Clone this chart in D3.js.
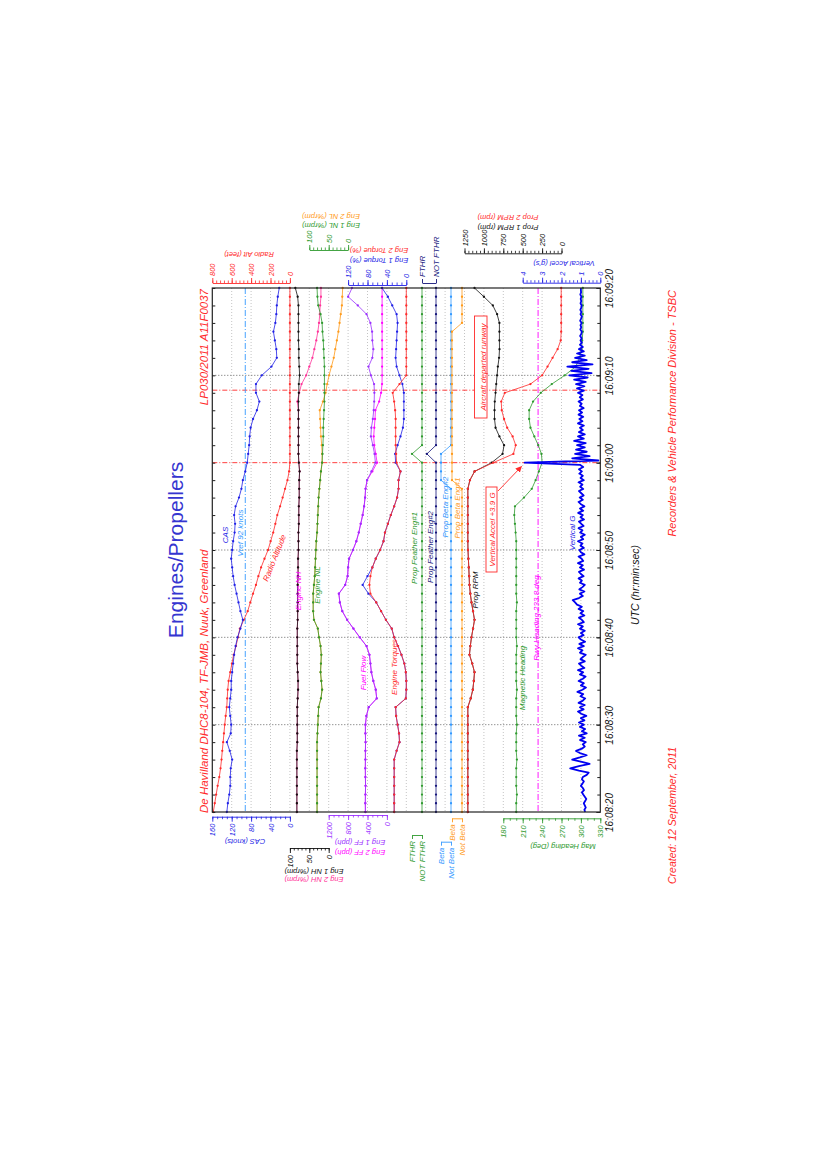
<!DOCTYPE html>
<html><head><meta charset="utf-8">
<script src="https://d3js.org/d3.v7.min.js"></script>
<style>
body{margin:0;background:#fff;}
svg text{font-family:"Liberation Sans",Arial,Helvetica,sans-serif;}
</style></head>
<body><svg id="chart" width="827" height="1169"></svg>
<script>
// ---------------- DATA ----------------
const timeLabels = ["16:08:20","16:08:30","16:08:40","16:08:50","16:09:00","16:09:10","16:09:20"];
const timeTickSec = [0,10,20,30,40,50,60];
// 1 Hz samples, seconds after 16:08:20
const sampleSec = d3.range(0,61);
const casKnots = [130,128,125,123,123,122,119,124,130,122,121,123,125,123,121,121,119,117,115,112,108,102,97,102,106,110,114,117,119,121,119,117,114,113,115,112,105,100,97,92,88,86,84,83,81,76,68,63,70,70,58,38,27,28,31,34,30,28,27,25,22];
const radioAltFt = [790,775,760,745,728,715,705,697,688,680,672,662,651,646,641,632,615,598,580,556,535,516,475,435,408,380,350,325,297,262,225,199,172,150,130,101,75,50,25,8,0,0,0,0,0,0,0,0,0,0,0,0,0,0,0,0,0,0,0,0,0];
const eng1NH = [82,82,82,82,82,82,82,82,81,81,81,81,81,80,79,79,80,81,81,81,81,81,80,80,80,80,80,79,79,79,78,78,78,77,77,77,76,76,76,75,77,78,78,78,78,78,78,78,77,77,75,76,77,77,78,78,78,78,78,80,86];
const eng2NH = [82,82,82,82,82,82,82,82,81,81,81,81,81,80,79,79,80,81,81,81,81,81,80,80,80,80,80,79,79,79,78,78,78,77,77,77,76,76,76,75,77,78,78,78,78,78,78,81,76,70,58,50,42,37,32,28,25,23,22,20,20];
const eng1NL = [80,80,80,80,80,80,80,80,80,79,78,77,76,70,67,69,71,70,69,71,75,78,88,90,90,90,88,86,85,84,83,82,80,79,78,77,76,74,72,70,67,66,65,64,64,63,62,61,61,61,61,61,62,63,64,66,67,71,77,79,80];
const eng2NL = [80,80,80,80,80,80,80,80,80,79,78,77,76,70,67,69,71,70,69,71,75,78,88,90,90,90,88,86,85,84,83,82,80,79,78,77,76,74,72,70,67,67,68,70,71,72,73,65,58,54,49,43,37,33,29,25,22,19,16,15,14];
const eng1FF = [443,445,443,440,443,445,443,443,440,443,443,423,375,210,230,280,320,340,360,420,560,690,820,920,970,990,860,810,800,780,700,630,580,540,500,470,450,440,408,320,237,255,290,330,320,290,272,262,258,265,330,380,300,280,300,305,340,420,600,800,720];
const eng2FF = [443,445,443,440,443,445,443,443,440,443,443,423,375,210,230,280,320,340,360,420,560,690,820,920,970,990,860,810,800,780,700,630,580,540,500,470,450,440,408,300,202,230,260,272,260,245,237,160,120,100,99,99,99,99,99,99,99,99,99,99,99];
const eng1Trq = [25,25,25,25,25,25,25,20,14,15,18,21,22,1,0,0,1,4,10,17,25,30,42,52,62,78,90,80,70,63,54,47,44,38,32,25,19,16,16,12,22,23,18,12,7,5,5,5,5,8,14,20,22,21,20,19,18,20,29,38,50];
const eng2Trq = [25,25,25,25,25,25,25,20,14,15,18,21,22,1,0,0,1,4,10,17,25,30,42,52,62,74,76,74,70,63,54,47,44,38,32,25,19,16,16,12,20,21,22,22,22,22,23,25,28,14,0,0,0,0,0,0,0,0,0,0,0];
const featherEng1 = [0,0,0,0,0,0,0,0,0,0,0,0,0,0,0,0,0,0,0,0,0,0,0,0,0,0,0,0,0,0,0,0,0,0,0,0,0,0,0,0,0,1,0,0,0,0,0,0,0,0,0,0,0,0,0,0,0,0,0,0,0];
const featherEng2 = [0,0,0,0,0,0,0,0,0,0,0,0,0,0,0,0,0,0,0,0,0,0,0,0,0,0,0,0,0,0,0,0,0,0,0,0,0,0,0,0,0,0.65,0,0,0,0,0,0,0,0,0,0,0,0,0,0,0,0,0,0,0];
const betaEng2 = [0,0,0,0,0,0,0,0,0,0,0,0,0,0,0,0,0,0,0,0,0,0,0,0,0,0,0,0,0,0,0,0,0,0,0,0,0,0,1,1,1,1,0,0,0,0,0,0,0,0,0,0,0,0,0,0,0,0,0,0,0];
const betaEng1 = [0,0,0,0,0,0,0,0,0,0,0,0,0,0,0,0,0,0,0,0,0,0,0,0,0,0,0,0,0,0,0,0,0,0,0,0,0,0,1,1,1,1,1,1,1,1,1,1,1,1,1,1,1,1,1,1,0,0,0,0,0];
const prop1RPM = [1207,1207,1207,1207,1207,1207,1207,1207,1207,1207,1207,1207,1207,1170,1143,1130,1121,1150,1186,1175,1160,1140,1121,1140,1160,1175,1186,1190,1195,1200,1205,1207,1207,1207,1207,1207,1207,1207,1180,1120,900,760,740,800,850,863,863,860,850,841,830,820,805,799,800,800,800,830,885,1000,1121];
const prop2RPM = [1207,1207,1207,1207,1207,1207,1207,1207,1207,1207,1207,1207,1207,1170,1143,1130,1121,1150,1186,1175,1160,1140,1121,1140,1160,1175,1186,1190,1195,1200,1205,1207,1207,1207,1207,1207,1207,1207,1180,1120,880,620,590,630,700,740,770,777,730,400,250,180,115,50,10,4,4,4,4,4,4];
const magHeading = [200,200,201,200,200,200,201,200,200,200,201,200,200,200,201,200,200,200,200,201,200,200,200,200,201,200,200,200,200,200,200,200,199,198,197,198,212,224,230,235,240,239,234,228,222,220,220,226,238,255,275,292,298,301,302,303,303,303,303,303,303];
// vertical acceleration, 4 Hz
const vgSec = d3.range(0,60.001,0.25);
const vertG = [
0.78,0.82,0.75,0.80, 0.85,0.78,0.72,0.80, 0.88,0.95,0.84,0.90, 1.00,0.92,0.85,0.95,
0.90,0.70,0.60,1.10, 1.55,1.10,0.55,0.95, 1.45,1.05,0.70,1.05, 1.25,0.95,0.80,0.90,
0.75,1.05,0.80,1.10, 0.70,0.95,0.78,1.05, 0.85,1.10,0.82,1.00, 0.72,0.98,1.15,0.86,
1.05,0.80,1.12,0.90, 0.78,1.02,0.88,1.18, 0.92,0.74,1.00,0.85, 1.12,0.90,0.76,1.05,
0.88,1.15,0.82,0.98, 1.10,0.80,1.02,0.90, 0.75,1.05,0.92,1.15, 0.85,1.08,0.78,1.00,
1.12,0.86,1.00,0.80, 1.05,0.90,1.15,0.85, 0.95,1.10,0.82,1.02, 0.88,1.12,0.95,1.20,
1.30,1.42,1.10,0.90, 1.05,0.82,1.08,0.92, 0.80,1.05,0.95,1.12, 0.86,1.00,1.10,0.84,
1.05,0.90,1.15,0.88, 0.96,1.12,0.82,1.00, 1.08,0.85,1.02,0.92, 1.15,0.88,1.00,0.80,
1.04,0.92,1.12,0.86, 0.98,1.10,0.84,1.02, 0.90,1.14,0.88,1.05, 0.82,1.00,1.12,0.90,
1.06,0.86,0.98,1.10, 0.88,1.04,0.92,1.12, 0.85,1.02,0.90,1.08, 0.95,1.10,0.88,1.05,
3.90,0.10,1.45,0.55, 1.30,0.70,1.25,0.80, 1.20,0.75,1.35,0.85, 1.15,0.80,1.10,0.90,
1.05,0.85,1.15,0.92, 1.08,0.88,1.12,0.94, 1.10,0.86,1.05,0.96, 1.12,0.90,1.06,0.92,
1.15,0.85,1.20,0.82, 1.25,0.75,1.35,0.65, 1.60,0.45,1.50,0.60, 1.70,0.40,1.45,0.70,
1.30,0.80,1.20,0.85, 1.10,0.90,1.05,0.95, 1.02,0.96,1.04,0.98, 0.95,1.03,0.98,1.02,
0.96,1.04,0.99,0.95, 1.02,0.97,1.03,0.98, 0.96,1.02,0.98,1.01, 0.97,1.03,0.99,1.00,
1.00];
const vrefKnots = 92;
const rwyHeading = 233.8;
const eventSec = [40.0, 48.3];

// ---------------- DRAW ----------------
const svg = d3.select("#chart");
const PX0=212.3, PX1=600.3, PT=288, PB=812;
const gx = k => PX0 + k*(PX1-PX0)/20;
const T = d3.scaleLinear().domain([0,60]).range([PB,PT]);
const S = {
  cas: d3.scaleLinear().domain([0,160]).range([gx(4),gx(0)]),
  ralt: d3.scaleLinear().domain([0,800]).range([gx(4),gx(0)]),
  nh: d3.scaleLinear().domain([0,100]).range([gx(6),gx(4)]),
  nl: d3.scaleLinear().domain([0,100]).range([gx(7),gx(5)]),
  ff: d3.scaleLinear().domain([0,1200]).range([gx(9),gx(6)]),
  trq: d3.scaleLinear().domain([0,120]).range([gx(10),gx(7)]),
  fth1: d3.scaleLinear().domain([0,1]).range([422,412]),
  fth2: d3.scaleLinear().domain([0,1]).range([436,422]),
  beta2: d3.scaleLinear().domain([0,1]).range([451,441]),
  beta1: d3.scaleLinear().domain([0,1]).range([462,452]),
  rpm: d3.scaleLinear().domain([0,1250]).range([gx(18),gx(13)]),
  hdg: d3.scaleLinear().domain([180,330]).range([gx(15),gx(20)]),
  vg: d3.scaleLinear().domain([0,4]).range([gx(20),gx(16)])
};
const C = {red:"#ff2a2a", blue:"#1f1fe6", lblue:"#3399ff", green:"#2f9a2f", orange:"#ff9a1a",
  magenta:"#ff00ff", pink:"#ff3399", purple:"#9b30ff", navy:"#14147a", black:"#111", title:"#3535d0"};
const intFmt = d3.format("d");

// grid
const grid = svg.append("g");
grid.selectAll(null).data(d3.range(1,20)).join("line")
  .attr("x1",d=>gx(d)).attr("x2",d=>gx(d)).attr("y1",PT).attr("y2",PB)
  .attr("stroke","#b5b5b5").attr("stroke-width",0.8).attr("stroke-dasharray","1,2");
grid.selectAll(null).data([10,20,30,50]).join("line")
  .attr("x1",PX0).attr("x2",PX1).attr("y1",d=>T(d)).attr("y2",d=>T(d))
  .attr("stroke","#555").attr("stroke-width",0.9).attr("stroke-dasharray","1,2");
grid.selectAll(null).data(eventSec).join("line")
  .attr("x1",PX0).attr("x2",PX1).attr("y1",d=>T(d)).attr("y2",d=>T(d))
  .attr("stroke",C.red).attr("stroke-width",0.9).attr("stroke-dasharray","5,2,1,2");
grid.append("line").attr("x1",S.cas(vrefKnots)).attr("x2",S.cas(vrefKnots)).attr("y1",PT).attr("y2",PB)
  .attr("stroke",C.lblue).attr("stroke-width",0.9).attr("stroke-dasharray","6,2,1,2");
grid.append("line").attr("x1",S.hdg(rwyHeading)).attr("x2",S.hdg(rwyHeading)).attr("y1",PT).attr("y2",PB)
  .attr("stroke",C.magenta).attr("stroke-width",0.9).attr("stroke-dasharray","6,2,1,2");

// series
const dataG = svg.append("g");
function series(vals, times, scale, color, w=0.8, markers=true){
  const pts = vals.map((v,i)=>[scale(v), T(times[i])]);
  dataG.append("path").attr("d", d3.line()(pts)).attr("fill","none")
    .attr("stroke",color).attr("stroke-width",w).attr("stroke-linejoin","round");
  if(markers) dataG.append("g").selectAll("circle").data(pts).join("circle")
    .attr("cx",d=>d[0]).attr("cy",d=>d[1]).attr("r",1.15).attr("fill",color);
}
series(radioAltFt, sampleSec, S.ralt, C.red);
series(casKnots, sampleSec, S.cas, C.blue);
series(eng2NH, sampleSec, S.nh, C.pink);
series(eng1NH, sampleSec, S.nh, C.black);
series(eng2NL, sampleSec, S.nl, C.orange);
series(eng1NL, sampleSec, S.nl, C.green);
series(eng2FF, sampleSec, S.ff, C.magenta);
series(eng1FF, sampleSec, S.ff, C.purple);
series(eng1Trq, sampleSec, S.trq, C.blue);
series(eng2Trq, sampleSec, S.trq, C.red);
series(featherEng1, sampleSec, S.fth1, C.green);
series(featherEng2, sampleSec, S.fth2, C.navy);
series(betaEng2, sampleSec, S.beta2, C.lblue);
series(betaEng1, sampleSec, S.beta1, C.orange);
series(prop1RPM, sampleSec, S.rpm, C.black);
series(prop2RPM, sampleSec, S.rpm, C.red);
series(magHeading, sampleSec, S.hdg, C.green);
series(vertG, vgSec, S.vg, "#0000f0", 1.8, false);

// frame
svg.append("rect").attr("x",PX0).attr("y",PT).attr("width",PX1-PX0).attr("height",PB-PT)
  .attr("fill","none").attr("stroke","#222").attr("stroke-width",1.2);

// time axes
const tAxR = svg.append("g").attr("transform",`translate(${PX1},0)`)
  .call(d3.axisLeft(T).tickValues(timeTickSec).tickSize(4).tickSizeOuter(0).tickFormat((d,i)=>timeLabels[i]));
tAxR.select(".domain").remove();
tAxR.selectAll(".tick line").attr("stroke","#222");
tAxR.selectAll(".tick text").attr("transform","translate(12.5,0) rotate(-90)").attr("x",0).attr("y",0).attr("dy",0)
  .attr("text-anchor","middle").attr("font-size",10).attr("font-style","italic").attr("fill","#111");
const minorT = d3.range(0,61,2);
svg.append("g").attr("transform",`translate(${PX1},0)`).call(d3.axisLeft(T).tickValues(minorT).tickSize(3).tickFormat(""))
  .call(g=>g.select(".domain").remove()).selectAll("line").attr("stroke","#222");
svg.append("g").attr("transform",`translate(${PX0},0)`).call(d3.axisRight(T).tickValues(minorT).tickSize(3).tickFormat(""))
  .call(g=>g.select(".domain").remove()).selectAll("line").attr("stroke","#222");

// band axes
function bandAxis(scale, o){
  const mk = ()=> o.side==="top"? d3.axisTop(scale) : d3.axisBottom(scale);
  const size = o.size||5;
  const ax = mk().tickValues(o.ticks).tickSize(size).tickSizeOuter(0).tickFormat(o.fmt||intFmt);
  const g = svg.append("g").attr("transform",`translate(0,${o.y})`).call(ax);
  g.select(".domain").attr("stroke",o.color).attr("stroke-width",0.9);
  g.selectAll(".tick line").attr("stroke",o.color).attr("stroke-width",0.9);
  g.selectAll(".tick text").attr("fill",o.color).attr("font-size",o.fs||7.5).attr("font-style","italic")
    .attr("transform","rotate(-90)").attr("y",0).attr("dy","0.35em")
    .attr("x", o.side==="top"? size+2 : -(size+2)).attr("text-anchor", o.side==="top"?"start":"end");
  if(o.minor){
    svg.append("g").attr("transform",`translate(0,${o.y})`).call(mk().tickValues(o.minor).tickSize(2.5).tickFormat(""))
      .call(g=>g.select(".domain").remove()).selectAll("line").attr("stroke",o.color).attr("stroke-width",0.8);
  }
}
function axTitle(txt, x, y, color, fs=7.5){
  svg.append("text").attr("transform",`translate(${x},${y}) rotate(180)`).attr("text-anchor","middle")
    .attr("font-size",fs).attr("font-style","italic").attr("fill",color).text(txt);
}
bandAxis(S.ralt,{side:"top",y:283,ticks:[0,200,400,600,800],minor:d3.range(0,801,40),color:C.red});
axTitle("Radio Alt (feet)",249,251.5,C.red);
bandAxis(S.nl,{side:"top",y:250,ticks:[0,50,100],minor:d3.range(0,101,10),color:C.green});
axTitle("Eng 1 NL (%rpm)",331,223,C.green);
axTitle("Eng 2 NL (%rpm)",331,213.5,C.orange);
bandAxis(S.trq,{side:"top",y:285,ticks:[0,40,80,120],minor:d3.range(0,121,10),color:C.blue});
axTitle("Eng 2 Torque (%)",379,248,C.red);
axTitle("Eng 1 Torque (%)",379,258,C.blue);
bandAxis(S.fth2,{side:"top",y:283,ticks:[0,1],fmt:d=>d?"FTHR":"NOT FTHR",color:C.navy,size:4,fs:8});
bandAxis(S.rpm,{side:"top",y:253.3,ticks:[0,250,500,750,1000,1250],minor:d3.range(0,1251,50),color:C.black});
axTitle("Prop 1 RPM (rpm)",508,225,C.black);
axTitle("Prop 2 RPM (rpm)",508,215,C.red);
bandAxis(S.vg,{side:"top",y:282.7,ticks:[0,1,2,3,4],minor:d3.range(0,4.01,0.2),color:C.blue});
axTitle("Vertical Accel (g's)",564,261,C.blue);

bandAxis(S.cas,{side:"bottom",y:816.7,ticks:[0,40,80,120,160],minor:d3.range(0,161,10),color:C.blue});
axTitle("CAS (knots)",245,839,C.blue);
bandAxis(S.ff,{side:"bottom",y:815,ticks:[0,400,800,1200],minor:d3.range(0,1201,100),color:C.purple});
axTitle("Eng 1 FF (pph)",360,840,C.purple);
axTitle("Eng 2 FF (pph)",360,849.5,C.magenta);
bandAxis(S.nh,{side:"bottom",y:848,ticks:[0,50,100],minor:d3.range(0,101,10),color:C.black});
axTitle("Eng 1 NH (%rpm)",314,868.5,C.black);
axTitle("Eng 2 NH (%rpm)",314,877,C.pink);
bandAxis(S.fth1,{side:"bottom",y:835,ticks:[0,1],fmt:d=>d?"FTHR":"NOT FTHR",color:C.green,size:4,fs:8});
bandAxis(S.beta2,{side:"bottom",y:841.7,ticks:[0,1],fmt:d=>d?"Beta":"Not Beta",color:C.lblue,size:4,fs:8});
bandAxis(S.beta1,{side:"bottom",y:818.3,ticks:[0,1],fmt:d=>d?"Beta":"Not Beta",color:C.orange,size:4,fs:8});
bandAxis(S.hdg,{side:"bottom",y:818.3,ticks:[180,210,240,270,300,330],minor:d3.range(180,331,10),color:C.green});
axTitle("Mag Heading (Deg)",563,844,C.green);

// texts (rotated)
function vtext(txt, x, y, color, o={}){
  return svg.append("text").attr("transform",`translate(${x},${y}) rotate(${o.rot==null?-90:o.rot})`)
    .attr("text-anchor",o.anchor||"middle").attr("font-size",o.fs||8)
    .attr("font-style",o.italic===false?"normal":"italic").attr("fill",color).text(txt);
}
vtext("Engines/Propellers",183,550,C.title,{fs:21,italic:false});
vtext("De Havilland DHC8-104, TF-JMB, Nuuk, Greenland",207.5,813,C.red,{fs:11.5,anchor:"start"});
vtext("LP030/2011  A11F0037",207.5,289,C.red,{fs:11.5,anchor:"end"});
vtext("Created: 12 September, 2011",676,884,C.red,{fs:10.5,anchor:"start"});
vtext("Recorders & Vehicle Performance Division - TSBC",676,290,C.red,{fs:11,anchor:"end"});
vtext("UTC (hr:min:sec)",639,585,"#111",{fs:10.5});

vtext("CAS",228,535,C.blue);
vtext("Vref 92 knots",243,533,C.lblue);
vtext("Radio Altitude",277,559,C.red,{rot:-68});
vtext("Engine NH",301,591,C.magenta);
vtext("Engine NL",320,585,C.green);
vtext("Fuel Flow",366,673,C.magenta);
vtext("Engine Torques",397,667,C.red);
vtext("Prop Feather Eng#1",417,548,C.green);
vtext("Prop Feather Eng#2",433,547,C.navy);
vtext("Prop Beta Eng#2",448,507,C.lblue);
vtext("Prop Beta Eng#1",460,508,C.orange);
vtext("Prop RPM",478,590,C.black);
vtext("Magnetic Heading",525,678,C.green);
vtext("Rwy Heading 233.8 deg",539,618,C.magenta);
vtext("Vertical G",575,533,C.blue);

// boxed annotations
svg.append("rect").attr("x",486).attr("y",487).attr("width",11).attr("height",85)
  .attr("fill","#fff").attr("stroke",C.red).attr("stroke-width",0.9);
vtext("Vertical Accel +3.9 G",495,529.5,C.red);
svg.append("rect").attr("x",474.5).attr("y",316).attr("width",12.5).attr("height",102)
  .attr("fill","#fff").attr("stroke",C.red).attr("stroke-width",0.9);
vtext("Aircraft departed runway",485.5,367,C.red);
svg.append("defs").append("marker").attr("id","ah").attr("viewBox","0 0 10 10").attr("refX",9).attr("refY",5)
  .attr("markerWidth",7).attr("markerHeight",7).attr("orient","auto")
  .append("path").attr("d","M0,0L10,5L0,10z").attr("fill",C.red);
svg.append("line").attr("x1",498).attr("y1",491).attr("x2",521.5).attr("y2",466.5)
  .attr("stroke",C.red).attr("stroke-width",0.9).attr("marker-end","url(#ah)");
</script></body></html>
